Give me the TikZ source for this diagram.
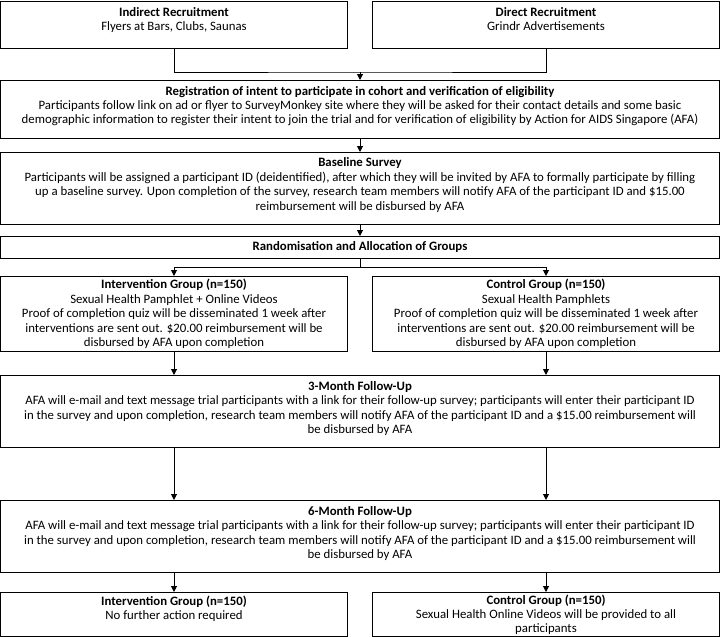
\documentclass[tikz,border=0pt]{standalone}
\usepackage{fontspec}
\setmainfont{Carlito}
\usetikzlibrary{positioning, arrows.meta}

\tikzset{
  flowbox/.style={draw, line width=1pt, align=center, inner sep=2pt, anchor=north,
    font=\fontsize{12.8}{14.4}\selectfont},
  wide/.style={flowbox, minimum width=719},
  half/.style={flowbox, minimum width=347},
  lift/.style={execute at end node={\rule[-#1]{0pt}{#1}}},
  flowline/.style={line width=1pt},
  flowarrow/.style={flowline, -{Triangle[length=6pt,width=6pt]}},
}

\begin{document}
\begin{tikzpicture}[x=1pt, y=-1pt]
  \useasboundingbox (0,0) rectangle (720,637);

  % recruitment
  \node[half, minimum height=47, lift=11pt] (indirect) at (174,0.5)
    {\textbf{Indirect Recruitment}\\Flyers at Bars, Clubs, Saunas};
  \node[half, minimum height=47, lift=11pt] (direct) at (546,0.5)
    {\textbf{Direct Recruitment}\\Grindr Advertisements};

  % enrolment
  \node[wide, minimum height=58, lift=9pt] (register) at (360,80)
    {\textbf{Registration of intent to participate in cohort and verification of eligibility}\\
     Participants follow link on ad or flyer to SurveyMonkey site where they will be asked for their contact details and some basic\\
     demographic information to register their intent to join the trial and for verification of eligibility by Action for AIDS Singapore (AFA)};
  \node[wide, minimum height=72, lift=9pt] (baseline) at (360,152)
    {\textbf{Baseline Survey}\\
     Participants will be assigned a participant ID (deidentified), after which they will be invited by AFA to formally participate by filling\\
     up a baseline survey. Upon completion of the survey, research team members will notify AFA of the participant ID and \$15.00\\
     reimbursement will be disbursed by AFA};
  \node[wide, minimum height=22] (random) at (360,236)
    {\textbf{Randomisation and Allocation of Groups}};

  % groups
  \node[half, minimum height=75] (intervention) at (174,276)
    {\textbf{Intervention Group (n=150)}\\
     Sexual Health Pamphlet + Online Videos\\
     Proof of completion quiz will be disseminated 1 week after\\
     interventions are sent out. \$20.00 reimbursement will be\\
     disbursed by AFA upon completion};
  \node[half, minimum height=75] (control) at (546,276)
    {\textbf{Control Group (n=150)}\\
     Sexual Health Pamphlets\\
     Proof of completion quiz will be disseminated 1 week after\\
     interventions are sent out. \$20.00 reimbursement will be\\
     disbursed by AFA upon completion};

  % follow-up
  \node[wide, minimum height=72, lift=8pt] (month3) at (360,375)
    {\textbf{3-Month Follow-Up}\\
     AFA will e-mail and text message trial participants with a link for their follow-up survey; participants will enter their participant ID\\
     in the survey and upon completion, research team members will notify AFA of the participant ID and a \$15.00 reimbursement will\\
     be disbursed by AFA};
  \node[wide, minimum height=72, lift=8pt] (month6) at (360,500)
    {\textbf{6-Month Follow-Up}\\
     AFA will e-mail and text message trial participants with a link for their follow-up survey; participants will enter their participant ID\\
     in the survey and upon completion, research team members will notify AFA of the participant ID and a \$15.00 reimbursement will\\
     be disbursed by AFA};

  % end of study
  \node[half, minimum height=44, lift=13pt] (noaction) at (174,592)
    {\textbf{Intervention Group (n=150)}\\No further action required};
  \node[half, minimum height=44] (videos) at (546,592)
    {\textbf{Control Group (n=150)}\\
     Sexual Health Online Videos will be provided to all\\
     participants};

  % connectors
  \coordinate (merge) at (360,72);
  \coordinate (split) at (360,267);
  \draw[flowline] (indirect.south) |- (merge) -| (direct.south);
  \draw[flowarrow] (merge) -- (register.north);
  \draw[flowarrow] (register.south) -- (baseline.north);
  \draw[flowarrow] (baseline.south) -- (random.north);
  \draw[flowline] (random.south) -- (split);
  \draw[flowarrow] (split) -| (intervention.north);
  \draw[flowarrow] (split) -| (control.north);
  \draw[flowarrow] (intervention.south) -- (intervention.south |- month3.north);
  \draw[flowarrow] (control.south) -- (control.south |- month3.north);
  \draw[flowarrow] (month3.south -| intervention) -- (month6.north -| intervention);
  \draw[flowarrow] (month3.south -| control) -- (month6.north -| control);
  \draw[flowarrow] (month6.south -| noaction) -- (noaction.north);
  \draw[flowarrow] (month6.south -| videos) -- (videos.north);
\end{tikzpicture}
\end{document}
